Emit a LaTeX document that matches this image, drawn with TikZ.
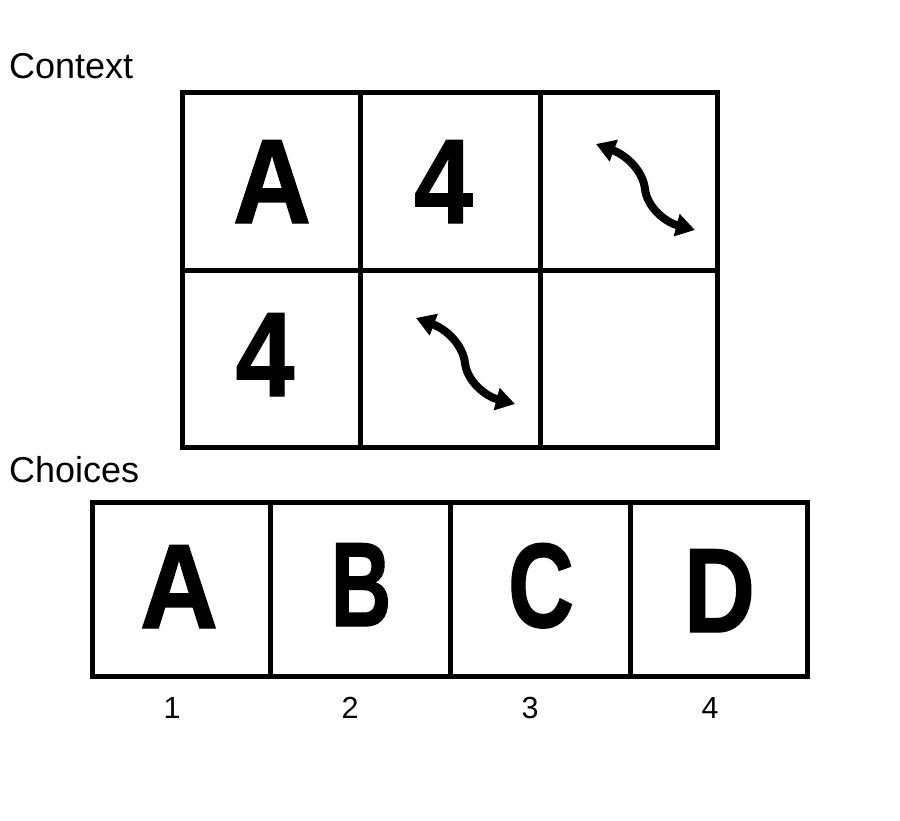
\documentclass[tikz,border=0pt]{standalone}
\usepackage{graphicx}
\usepackage{fontspec}
\setmainfont{Liberation Sans}
\newfontfamily\glyphfont[BoldFeatures={FakeBold=1.2}]{Liberation Sans}
\usetikzlibrary{arrows.meta}
\newcommand\narrowglyph[2]{\scalebox{#1}[1]{#2}}
\tikzset{
  gridline/.style={line width=5pt, line cap=rect},
  bigglyph/.style={anchor=base, inner sep=0pt, font=\glyphfont\fontsize{120}{120}\selectfont\bfseries},
  headtext/.style={anchor=base west, inner sep=0pt, font=\fontsize{36}{36}\selectfont},
  numtext/.style={anchor=base, inner sep=0pt, font=\fontsize{30.5}{30.5}\selectfont},
  swaparrow/.style={line width=8pt, {Triangle[length=19pt,width=22pt]}-{Triangle[length=19pt,width=22pt]}}
}
\begin{document}
\begin{tikzpicture}[x=1pt,y=-1pt]
\fill[white] (0,0) rectangle (900,820);
\useasboundingbox (0,0) rectangle (900,820);

% headings
\node[headtext] (ctx) at (9,78) {Context};
\node[headtext] (chc) at (9,482) {Choices};

% context grid
\draw[gridline] (182,92) rectangle (717,447);
\draw[gridline] (360.5,92) -- (360.5,447);
\draw[gridline] (540,92) -- (540,447);
\draw[gridline] (182,270) -- (717,270);

% context contents
\node[bigglyph] (cA) at (272,223) {\narrowglyph{0.9}{A}};
\node[bigglyph] (c4a) at (443.5,223) {\narrowglyph{0.88}{4}};
\node[bigglyph] (c4b) at (265,396) {\narrowglyph{0.88}{4}};

\begin{scope}[shift={(540,92)}]
  \coordinate (s1) at (56,52);
  \coordinate (e1) at (155,138);
  \draw[swaparrow] (s1) .. controls (88,64) and (103,80) .. (105,97)
                        .. controls (107,115) and (125,130) .. (e1);
\end{scope}
\begin{scope}[shift={(360,266)}]
  \coordinate (s2) at (56,52);
  \coordinate (e2) at (155,138);
  \draw[swaparrow] (s2) .. controls (88,64) and (103,80) .. (105,97)
                        .. controls (107,115) and (125,130) .. (e2);
\end{scope}

% choices grid
\draw[gridline] (92,502) rectangle (807,676.5);
\draw[gridline] (270.5,502) -- (270.5,676.5);
\draw[gridline] (450.5,502) -- (450.5,676.5);
\draw[gridline] (630.5,502) -- (630.5,676.5);

\node[bigglyph] (oA) at (179,628) {\narrowglyph{0.9}{A}};
\node[bigglyph] (oB) at (361,626) {\narrowglyph{0.7}{B}};
\node[bigglyph] (oC) at (541,627) {\narrowglyph{0.76}{C}};
\node[bigglyph] (oD) at (719.5,632) {\narrowglyph{0.82}{D}};

\node[numtext] (n1) at (172,718) {1};
\node[numtext] (n2) at (350,718) {2};
\node[numtext] (n3) at (530,718) {3};
\node[numtext] (n4) at (710,718) {4};
\end{tikzpicture}
\end{document}
